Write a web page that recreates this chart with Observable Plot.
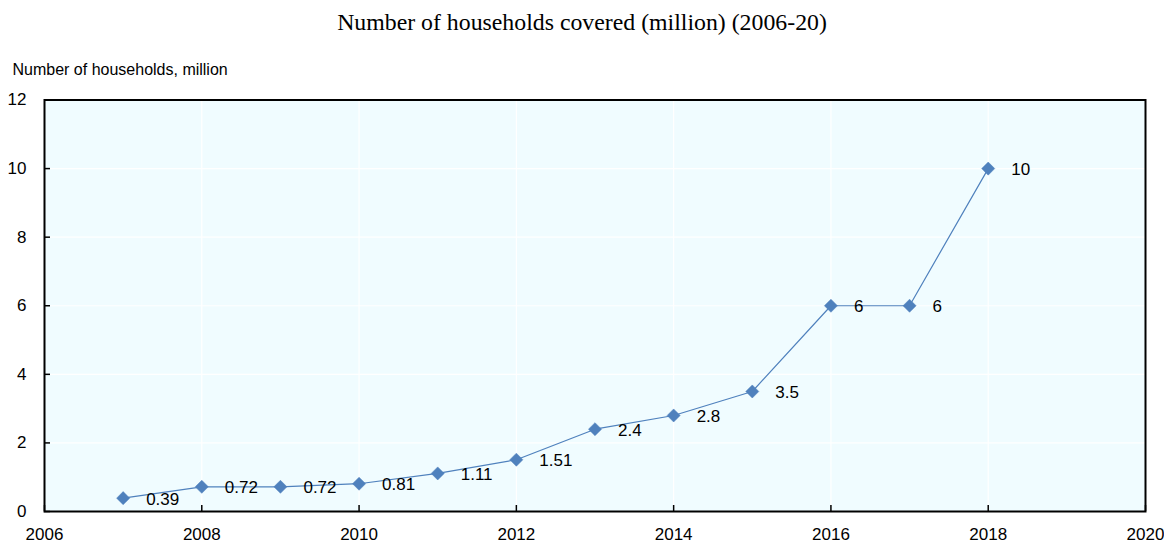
<!DOCTYPE html>
<html>
<head>
<meta charset="utf-8">
<script src="https://cdn.jsdelivr.net/npm/d3@7"></script>
<script src="https://cdn.jsdelivr.net/npm/@observablehq/plot@0.6"></script>
<style>
  body { margin: 0; background: #fff; width: 1164px; height: 545px; overflow: hidden; }
  #title { height: 45px; line-height: 44px; text-align: center; font-family: "Liberation Serif", "Times New Roman", serif; font-size: 23.8px; color: #000; }
  svg { display: block; }
</style>
</head>
<body>
<div id="title">Number of households covered (million) (2006-20)</div>
<div id="chart"></div>
<script>
const years = [2007, 2008, 2009, 2010, 2011, 2012, 2013, 2014, 2015, 2016, 2017, 2018];
const values = [0.39, 0.72, 0.72, 0.81, 1.11, 1.51, 2.4, 2.8, 3.5, 6, 6, 10];
const valueLabels = ["0.39", "0.72", "0.72", "0.81", "1.11", "1.51", "2.4", "2.8", "3.5", "6", "6", "10"];
const xTicks = [2006, 2008, 2010, 2012, 2014, 2016, 2018, 2020];
const yTicks = [0, 2, 4, 6, 8, 10, 12];
const yAxisTitle = "Number of households, million";

const data = years.map((y, i) => ({year: y, value: values[i], label: valueLabels[i]}));
const font = '"Liberation Sans", Arial, sans-serif';
const lineColor = "#4f81bd";

const chart = Plot.plot({
  width: 1164,
  height: 500,
  marginLeft: 44,
  marginRight: 19,
  marginTop: 54.5,
  marginBottom: 34,
  style: {fontFamily: font, fontSize: "17px", color: "#000", background: "transparent"},
  x: {domain: [2006, 2020], label: null},
  y: {domain: [0, 12], label: null},
  marks: [
    Plot.frame({fill: "#f0fcff", stroke: "none"}),
    Plot.gridY(yTicks, {stroke: "#ffffff", strokeOpacity: 1, strokeWidth: 1.2}),
    Plot.gridX(xTicks, {stroke: "#ffffff", strokeOpacity: 1, strokeWidth: 1.2}),
    Plot.axisX(xTicks, {tickSize: -6, tickPadding: 22, tickFormat: d => String(d), stroke: "#000", strokeWidth: 1.5}),
    Plot.axisY(yTicks, {tickSize: -6, tickPadding: 24, tickFormat: d => String(d), stroke: "#000", strokeWidth: 1.5}),
    Plot.frame({stroke: "#000", strokeWidth: 2}),
    Plot.line(data, {x: "year", y: "value", stroke: lineColor, strokeWidth: 1.2}),
    Plot.dot(data, {x: "year", y: "value", symbol: "diamond2", r: 5.9, fill: lineColor, stroke: lineColor, strokeWidth: 0.5}),
    Plot.text(data, {x: "year", y: "value", text: "label", dx: 23, dy: 1, textAnchor: "start", fontSize: 17, fill: "#000"}),
    Plot.text([yAxisTitle], {frameAnchor: "top-left", text: d => d, dx: -32, dy: -36, textAnchor: "start", fontSize: 16, fill: "#000"})
  ]
});
document.getElementById("chart").appendChild(chart);
</script>
</body>
</html>
